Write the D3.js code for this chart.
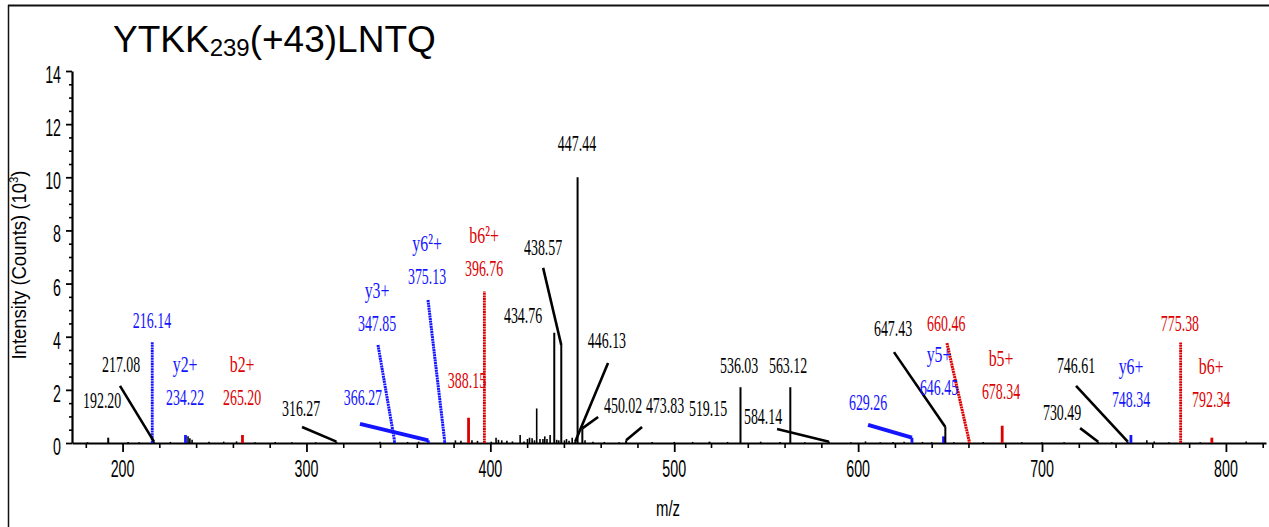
<!DOCTYPE html>
<html>
<head>
<meta charset="utf-8">
<script src="https://cdn.jsdelivr.net/npm/d3@7"></script>
<style>
  body { margin: 0; background: #fff; }
  svg { display: block; }
</style>
</head>
<body>
<svg id="chart" width="1269" height="527"></svg>
<script>
// ---- spectrum data -------------------------------------------------------
// unassigned background peaks (m/z, intensity in 10^3 counts)
const noiseMz = [181, 203, 209, 226, 235.6, 236.6, 237.8, 247, 255, 262, 272, 283, 292, 305,
  340, 355, 361, 381, 384, 390, 393, 400.5, 403.1, 404.4, 406.2, 409, 412, 416.2, 418.3,
  420.2, 421.3, 422.7, 424, 425.2, 427, 428.6, 429.6, 430.8, 432.5, 436.1, 437.2, 440.3,
  441.4, 442.8, 444.5, 451.5, 455.8, 462, 470, 488, 500, 510, 529, 547, 557.5, 571, 596,
  604, 612, 619, 625, 635, 640, 652, 668, 689, 700, 712, 738, 757, 761, 769, 786, 811];
const noiseInt = [0.03, 0.04, 0.03, 0.04, 0.25, 0.18, 0.12, 0.05, 0.05, 0.06, 0.03, 0.04, 0.03, 0.03,
  0.05, 0.04, 0.05, 0.1, 0.08, 0.1, 0.08, 0.05, 0.2, 0.12, 0.1, 0.08, 0.06, 0.3, 0.06,
  0.15, 0.2, 0.18, 0.1, 1.3, 0.15, 0.15, 0.25, 0.15, 0.3, 0.12, 0.1, 0.1,
  0.15, 0.08, 0.2, 0.1, 0.05, 0.04, 0.03, 0.04, 0.04, 0.04, 0.04, 0.05, 0.04, 0.03, 0.03,
  0.06, 0.03, 0.04, 0.05, 0.04, 0.03, 0.03, 0.04, 0.03, 0.03, 0.03, 0.03, 0.1, 0.06, 0.03, 0.03, 0.06];

// labelled peaks
const ionMz  = [192.20, 216.14, 217.08, 234.22, 265.20, 316.27, 347.85, 366.27, 375.13, 388.15,
  396.76, 434.76, 438.57, 446.13, 447.44, 450.02, 473.83, 519.15, 536.03, 563.12,
  584.14, 629.26, 646.45, 647.43, 660.46, 678.34, 730.49, 746.61, 748.34, 775.38, 792.34];
const ionInt = [0.20, 3.80, 0.05, 0.30, 0.30, 0.05, 0.10, 0.10, 0.10, 0.95,
  5.70, 4.15, 3.69, 0.05, 10.0, 0.55, 0.10, 0.05, 2.10, 2.10,
  0.05, 0.20, 0.25, 0.60, 0.05, 0.65, 0.05, 0.05, 0.30, 3.78, 0.20];
// ion series: "y", "b" or "" (unassigned)
const ionSeries = ["", "y", "", "y", "b", "", "y", "y", "y", "b",
  "b", "", "", "", "", "", "", "", "", "",
  "", "y", "y", "", "b", "b", "", "", "y", "b", "b"];
const ionName = ["", "", "", "y2+", "b2+", "", "y3+", "", "y6\u00b2+", "",
  "b6\u00b2+", "", "", "", "", "", "", "", "", "",
  "", "", "y5+", "", "", "b5+", "", "", "y6+", "", "b6+"];

// label anchors (m/z, intensity) for the value text
const labelMz  = [188.9, 216.0, 199.2, 234.0, 265.0, 297.1, 338.4, 330.7, 365.6, 387.3,
  396.6, 417.8, 428.7, 463.4, 447.1, 472.2, 495.0, 518.4, 535.3, 561.9,
  548.3, 605.4, 644.0, 619.0, 647.9, 677.7, 710.9, 718.5, 748.4, 775.0, 792.0];
const labelInt = [1.62, 4.63, 2.97, 1.73, 1.73, 1.35, 4.52, 1.73, 6.29, 2.37,
  6.59, 4.82, 7.38, 3.88, 11.29, 1.43, 1.43, 1.32, 2.94, 2.94,
  1.05, 1.54, 2.11, 4.33, 4.55, 1.99, 1.17, 2.94, 1.66, 4.55, 1.66];
// start of the callout line (null when the label sits over its peak)
const leaderMz  = [null, null, 198.6, null, null, 297.6, 338.9, 329.1, 366.1, null,
  null, null, 428.7, 464.0, null, 458.6, 482.5, null, null, null,
  555.9, 605.4, null, 619.5, 648.3, null, 720.7, 718.5, null, null, null];
const leaderInt = [null, null, 2.15, null, null, 0.60, 3.69, 0.72, 5.38, null,
  null, null, 6.59, 3.01, null, 0.98, 0.60, null, null, null,
  0.53, 0.68, null, 3.42, 3.76, null, 0.56, 2.15, null, null, null];

const xMajorTicks = [200, 300, 400, 500, 600, 700, 800];
const yMajorTicks = [0, 2, 4, 6, 8, 10, 12, 14];

// ---- drawing -------------------------------------------------------------
const svg = d3.select("#chart");
const colour = { y: "#1414ff", b: "#dd0000", "": "#000" };
const fmt = d3.format(".2f");

const x = d3.scaleLinear().domain([172.5, 821.8]).range([72, 1266]);
const y = d3.scaleLinear().domain([0, 14]).range([443, 71]);

// frame
svg.append("line").attr("x1", 8).attr("x2", 1269).attr("y1", 5.5).attr("y2", 5.5)
  .attr("stroke", "#111").attr("stroke-width", 2);
svg.append("line").attr("x1", 8.5).attr("x2", 8.5).attr("y1", 5).attr("y2", 527)
  .attr("stroke", "#111").attr("stroke-width", 1.5);

// title
const title = svg.append("text").attr("x", 113).attr("y", 52)
  .attr("font-family", "Liberation Sans, Arial, sans-serif").attr("font-size", 37).attr("fill", "#000");
title.append("tspan").text("YTKK");
title.append("tspan").attr("font-size", 24).attr("dy", 4).text("239");
title.append("tspan").attr("dy", -4).text("(+43)LNTQ");

// condensed text helper
function label(g, px, py, str, opts) {
  return g.append("text")
    .attr("transform", `translate(${px},${py}) scale(${opts.sx},1)`)
    .attr("text-anchor", opts.anchor || "middle")
    .attr("dy", "0.35em")
    .attr("font-family", opts.family)
    .attr("font-size", opts.size)
    .attr("fill", opts.fill || "#000")
    .text(str);
}

// x axis: minor ticks every 20, major every 100
const minorX = d3.range(180, 821, 20).filter(v => v % 100 !== 0);
svg.append("g").attr("transform", "translate(0,443)")
  .call(d3.axisBottom(x).tickValues(minorX).tickSize(5).tickFormat(""))
  .call(g => g.select(".domain").remove())
  .call(g => g.selectAll("line").attr("stroke-width", 1.6));
svg.append("g").attr("transform", "translate(0,443)")
  .call(d3.axisBottom(x).tickValues(xMajorTicks).tickSize(9).tickFormat("").tickSizeOuter(0))
  .call(g => g.select(".domain").attr("stroke-width", 2.2))
  .call(g => g.selectAll("line").attr("stroke-width", 1.8));
const axisFont = "Liberation Sans, Arial, sans-serif";
xMajorTicks.forEach(v => label(svg, x(v), 469, String(v), { sx: 0.62, size: 23, family: axisFont }));
label(svg, 668, 508, "m/z", { sx: 0.68, size: 22, family: axisFont });

// y axis: minor ticks every 0.5
const minorY = d3.range(0, 14.01, 0.5).filter(v => v % 2 !== 0);
svg.append("g").attr("transform", "translate(72,0)")
  .call(d3.axisLeft(y).tickValues(minorY).tickSize(3).tickFormat(""))
  .call(g => g.select(".domain").remove())
  .call(g => g.selectAll("line").attr("stroke-width", 1.6));
svg.append("g").attr("transform", "translate(72,0)")
  .call(d3.axisLeft(y).tickValues(yMajorTicks).tickSize(6).tickFormat("").tickSizeOuter(0))
  .call(g => g.select(".domain").attr("stroke-width", 2.2))
  .call(g => g.selectAll("line").attr("stroke-width", 1.8));
yMajorTicks.forEach(v => label(svg, 61, y(v) + 4, String(v), { sx: 0.62, size: 23, family: axisFont, anchor: "end" }));

const yTitle = svg.append("text")
  .attr("transform", "translate(26,265) rotate(-90) scale(0.88,1)")
  .attr("text-anchor", "middle")
  .attr("font-family", axisFont).attr("font-size", 21).attr("fill", "#000");
yTitle.append("tspan").text("Intensity (Counts) (10");
yTitle.append("tspan").attr("font-size", 13).attr("dy", -8).text("3");
yTitle.append("tspan").attr("dy", 8).text(")");

// background peaks
const plot = svg.append("g");
plot.selectAll("line.noise").data(noiseMz).join("line").attr("class", "noise")
  .attr("x1", d => x(d)).attr("x2", d => x(d))
  .attr("y1", y(0)).attr("y2", (d, i) => y(noiseInt[i]))
  .attr("stroke", "#000").attr("stroke-width", 1.6);

// labelled peaks
const ions = ionMz.map((mz, i) => ({
  mz, v: ionInt[i], s: ionSeries[i], name: ionName[i],
  lx: labelMz[i], ly: labelInt[i], fx: leaderMz[i], fy: leaderInt[i]
}));

plot.selectAll("line.ion").data(ions).join("line").attr("class", "ion")
  .attr("x1", d => x(d.mz)).attr("x2", d => x(d.mz))
  .attr("y1", y(0)).attr("y2", d => y(d.v))
  .attr("stroke", d => colour[d.s])
  .attr("stroke-width", d => d.s ? 2.8 : 2)
  .attr("stroke-dasharray", d => d.s && d.v > 1.5 ? "2,0.6" : null);

// callout lines; steep coloured ones are dotted, shallow ones read as solid
const steep = d => Math.abs(y(d.fy) - y(d.v)) > Math.abs(x(d.fx) - x(d.mz));
plot.selectAll("line.leader").data(ions.filter(d => d.fx !== null)).join("line").attr("class", "leader")
  .attr("x1", d => x(d.fx)).attr("y1", d => y(d.fy))
  .attr("x2", d => x(d.mz)).attr("y2", d => y(d.v))
  .attr("stroke", d => colour[d.s])
  .attr("stroke-width", d => d.s ? (steep(d) ? 3 : 4) : 2.6)
  .attr("stroke-dasharray", d => d.s && steep(d) ? "2,0.6" : null);

const serif = "Liberation Serif, 'Times New Roman', serif";
ions.forEach(d => {
  label(svg, x(d.lx), y(d.ly), fmt(d.mz), { sx: 0.58, size: 24, family: serif, fill: colour[d.s] });
  if (d.name) label(svg, x(d.lx), y(d.ly) - 33, d.name, { sx: 0.66, size: 24, family: serif, fill: colour[d.s] });
});
</script>
</body>
</html>
